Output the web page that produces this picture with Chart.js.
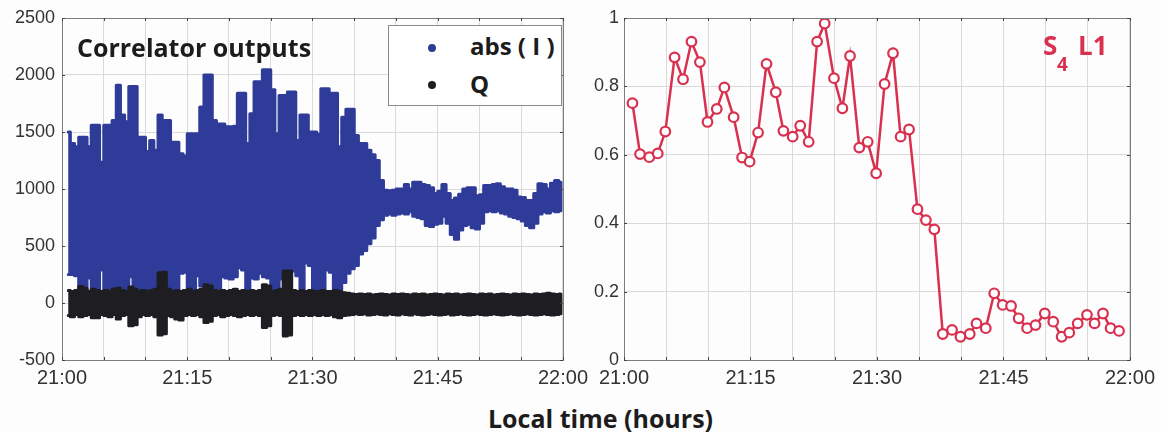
<!DOCTYPE html>
<html>
<head>
<meta charset="utf-8">
<script src="https://cdn.jsdelivr.net/npm/chart.js@4.4.1/dist/chart.umd.min.js"></script>
<style>
  body { margin: 0; background: #fdfdfd; width: 1161px; height: 432px; position: relative; overflow: hidden; }
  .wrap { position: absolute; top: 0; height: 400px; }
  #leftWrap { left: 0; width: 594px; }
  #rightWrap { left: 592px; width: 569px; }
  .lbl { position: absolute; font-family: "Open Sans", Lato, sans-serif; font-weight: bold; color: #1c1c1c; white-space: nowrap; line-height: 1; }
  #legendBox { position: absolute; left: 388px; top: 25px; width: 172px; height: 79px; border: 1px solid #8a8a8a; background: #fff; }
  .dot { position: absolute; width: 8px; height: 8px; border-radius: 50%; }
  .s4 { color: #d9304f; }
</style>
</head>
<body>
<div class="wrap" id="leftWrap"><canvas id="corrChart" width="594" height="400"></canvas></div>
<div class="wrap" id="rightWrap"><canvas id="s4Chart" width="569" height="400"></canvas></div>

<div class="lbl" style="left:77px; top:35px; font-size:25px;">Correlator outputs</div>
<div id="legendBox">
  <div class="dot" style="left:39px; top:18px; background:#2f3b98;"></div>
  <div class="dot" style="left:39px; top:55px; background:#1e1e1e;"></div>
  <div class="lbl" style="left:81px; top:8px; font-size:24px;">abs ( I )</div>
  <div class="lbl" style="left:81px; top:46px; font-size:24px;">Q</div>
</div>
<div class="lbl s4" style="left:1043px; top:32px; font-size:26px;">S</div>
<div class="lbl s4" style="left:1057px; top:55px; font-size:19px;">4</div>
<div class="lbl s4" style="left:1078px; top:32px; font-size:26px;">L1</div>
<div class="lbl" style="left:488px; top:406px; font-size:25px;">Local time (hours)</div>

<script>
// correlator outputs, read per half-minute bin (envelope of the dense samples)
const absIHigh = [
  1500,1400,1370,1455,1455,1370,1560,1560,1235,1560,
  1560,1600,1910,1650,1590,1900,1900,1455,1455,1330,
  1425,1340,1650,1600,1600,1410,1410,1310,1290,1485,
  1485,1485,1720,2000,2000,1600,1570,1570,1545,1545,
  1550,1840,1840,1400,1660,1940,1940,2045,2045,1870,
  1485,1820,1820,1850,1850,1425,1650,1650,1500,1500,
  1480,1880,1880,1840,1840,1370,1630,1700,1700,1470,
  1400,1400,1340,1300,1250,1075,990,985,990,1000,
  1000,1040,1000,1060,1060,1040,1030,1010,960,980,
  1040,960,900,920,955,1000,1010,1010,940,950,
  1030,1030,1040,1045,1020,1000,1000,990,930,925,
  900,900,960,1045,1040,1000,1050,1075,1060
];
const absILow = [
  250,250,240,100,90,220,90,80,290,100,
  90,100,80,90,100,230,120,80,90,100,
  80,90,110,90,100,80,90,260,270,110,
  100,240,150,90,100,90,110,230,220,210,
  230,310,290,110,220,210,260,230,220,100,
  110,210,90,100,280,240,120,350,330,120,
  100,90,290,270,90,80,180,260,300,330,
  430,460,520,570,680,730,770,780,770,780,
  790,780,800,760,750,740,680,670,690,700,
  760,700,600,560,640,680,690,660,650,700,
  800,810,800,810,790,780,760,750,740,720,
  680,660,700,780,800,790,810,800,810
];
const qHigh = [
  110,100,110,145,130,100,120,110,100,110,
  100,120,130,110,100,140,120,100,110,100,
  110,120,265,270,120,100,110,100,110,120,
  100,110,120,160,150,110,100,110,100,110,
  120,100,110,100,110,100,110,160,150,100,
  110,120,280,280,110,100,110,100,110,100,
  100,110,100,100,110,100,90,85,80,75,
  80,75,80,70,75,80,75,70,80,75,
  80,75,70,80,75,80,70,75,80,75,
  70,80,75,80,70,75,80,75,70,80,
  75,80,70,75,80,75,70,80,75,80,
  75,70,80,75,80,85,80,75,80
];
const qLow = [
  -110,-120,-100,-120,-110,-100,-130,-130,-100,-110,
  -120,-100,-140,-110,-100,-200,-190,-120,-100,-110,
  -100,-120,-280,-270,-110,-120,-140,-150,-110,-100,
  -110,-100,-120,-170,-160,-110,-100,-120,-110,-100,
  -110,-120,-110,-100,-110,-100,-110,-215,-200,-110,
  -100,-110,-290,-280,-110,-100,-110,-100,-110,-100,
  -110,-100,-110,-100,-120,-130,-110,-105,-100,-95,
  -100,-95,-105,-100,-95,-100,-105,-95,-100,-105,
  -95,-100,-105,-95,-100,-105,-100,-95,-100,-105,
  -100,-95,-105,-100,-95,-100,-105,-100,-95,-100,
  -105,-100,-95,-100,-105,-100,-95,-100,-105,-100,
  -95,-100,-105,-100,-95,-100,-105,-100,-95
];
// S4 L1, minutes after 21:00
const s4Minutes = [1.0,1.9,3.0,4.0,4.9,6.0,7.0,8.0,9.0,9.9,11.0,11.9,13.0,14.0,14.9,15.9,16.9,18.0,18.9,20.0,
  20.9,21.9,22.9,23.8,24.9,25.9,26.8,27.9,28.9,29.9,30.9,31.9,32.8,33.8,34.8,35.8,36.8,37.8,38.9,39.9,
  41.0,41.8,42.9,43.9,44.9,45.9,46.8,47.8,48.8,49.9,50.9,51.9,52.8,53.8,54.9,55.8,56.8,57.7,58.7];
const s4Values = [0.751,0.602,0.593,0.604,0.668,0.885,0.821,0.931,0.871,0.696,0.734,0.797,0.710,0.592,0.580,0.665,0.866,0.783,0.670,0.653,
  0.685,0.638,0.931,0.984,0.824,0.736,0.889,0.621,0.638,0.546,0.807,0.897,0.653,0.674,0.441,0.409,0.382,0.076,0.088,0.068,
  0.076,0.107,0.093,0.195,0.161,0.158,0.122,0.093,0.102,0.136,0.112,0.068,0.080,0.107,0.132,0.107,0.136,0.093,0.085];
const corrTicks = [-500, 0, 500, 1000, 1500, 2000, 2500];
const s4Ticks = [0, 0.2, 0.4, 0.6, 0.8, 1];

// bin centres, every half minute from 21:00:45
let binTimes = [];
for (let i = 0; i < absIHigh.length; i++) {
  binTimes.push(0.75 + 0.5 * i);
}

function timeLabel(v){
  if (v % 15 != 0) return '';
  if (v == 60) return '22:00';
  return '21:' + (v == 0 ? '00' : String(v));
}

// box round the plot plus the little inward ticks
const frameTicks = {
  id: 'frameTicks',
  afterDatasetsDraw(chart){
    let a = chart.chartArea;
    let ctx = chart.ctx;
    ctx.save();
    ctx.strokeStyle = '#7d7d7d';
    ctx.lineWidth = 1;
    ctx.strokeRect(Math.round(a.left) + 0.5, Math.round(a.top) + 0.5, Math.round(a.right - a.left), Math.round(a.bottom - a.top));
    ctx.strokeStyle = '#444';
    ctx.beginPath();
    chart.scales.x.ticks.forEach(t => {
      let px = Math.round(chart.scales.x.getPixelForValue(t.value)) + 0.5;
      ctx.moveTo(px, a.top); ctx.lineTo(px, a.top + 3);
      ctx.moveTo(px, a.bottom); ctx.lineTo(px, a.bottom - 3);
    });
    chart.scales.y.ticks.forEach(t => {
      let py = Math.round(chart.scales.y.getPixelForValue(t.value)) + 0.5;
      ctx.moveTo(a.left, py); ctx.lineTo(a.left + 3, py);
      ctx.moveTo(a.right, py); ctx.lineTo(a.right - 3, py);
    });
    ctx.stroke();
    ctx.restore();
  }
};

function xAxis(){
  return {
    type: 'linear', min: 0, max: 60,
    grid: { color: '#dadada', drawTicks: false },
    border: { display: false },
    ticks: { stepSize: 5, autoSkip: false, maxRotation: 0, padding: 6, color: '#333',
             font: { family: 'Liberation Sans', size: 20 }, callback: timeLabel },
    afterFit: s => { s.height = 40; }
  };
}

// one closed outline per series: along the top envelope, back along the bottom one
function band(label, hi, lo, colour, order){
  let pts = binTimes.map((t, i) => ({ x: t, y: hi[i] }));
  for (let i = binTimes.length - 1; i >= 0; i--) {
    pts.push({ x: binTimes[i], y: lo[i] });
  }
  return {
    label: label, order: order, fill: 'shape', data: pts,
    stepped: 'middle', borderColor: colour, backgroundColor: colour,
    borderWidth: 3, borderJoinStyle: 'round', borderCapStyle: 'round',
    pointRadius: 0
  };
}

new Chart(document.getElementById('corrChart'), {
  type: 'line',
  data: {
    datasets: [
      band('Q', qHigh, qLow, '#1e1e22', 1),
      band('abs ( I )', absIHigh, absILow, '#2f3b98', 2)
    ]
  },
  options: {
    responsive: false, animation: false,
    layout: { padding: { left: 6, right: 26, top: 18, bottom: 0 } },
    plugins: { legend: { display: false }, tooltip: { enabled: false } },
    scales: {
      x: xAxis(),
      y: {
        min: -500, max: 2500,
        grid: { color: '#dadada', drawTicks: false },
        border: { display: false },
        afterBuildTicks: s => { s.ticks = corrTicks.map(v => ({ value: v })); },
        ticks: { padding: 7, color: '#333', font: { family: 'Liberation Sans', size: 18 }, callback: v => String(v) },
        afterFit: s => { s.width = 56; }
      }
    }
  },
  plugins: [frameTicks]
});

new Chart(document.getElementById('s4Chart'), {
  type: 'line',
  data: {
    datasets: [{
      label: 'S4 L1',
      data: s4Minutes.map((m, i) => ({ x: m, y: s4Values[i] })),
      borderColor: '#d9304f', borderWidth: 2.5,
      pointRadius: 4.8, pointBorderWidth: 2.2,
      pointBackgroundColor: '#fff', pointBorderColor: '#d9304f'
    }]
  },
  options: {
    responsive: false, animation: false,
    layout: { padding: { left: 0, right: 29, top: 18, bottom: 0 } },
    plugins: { legend: { display: false }, tooltip: { enabled: false } },
    scales: {
      x: xAxis(),
      y: {
        min: 0, max: 1,
        grid: { color: '#dadada', drawTicks: false },
        border: { display: false },
        afterBuildTicks: s => { s.ticks = s4Ticks.map(v => ({ value: v })); },
        ticks: { padding: 5, color: '#333', font: { family: 'Liberation Sans', size: 18 }, callback: v => String(v) },
        afterFit: s => { s.width = 32; }
      }
    }
  },
  plugins: [frameTicks]
});
</script>
</body>
</html>
